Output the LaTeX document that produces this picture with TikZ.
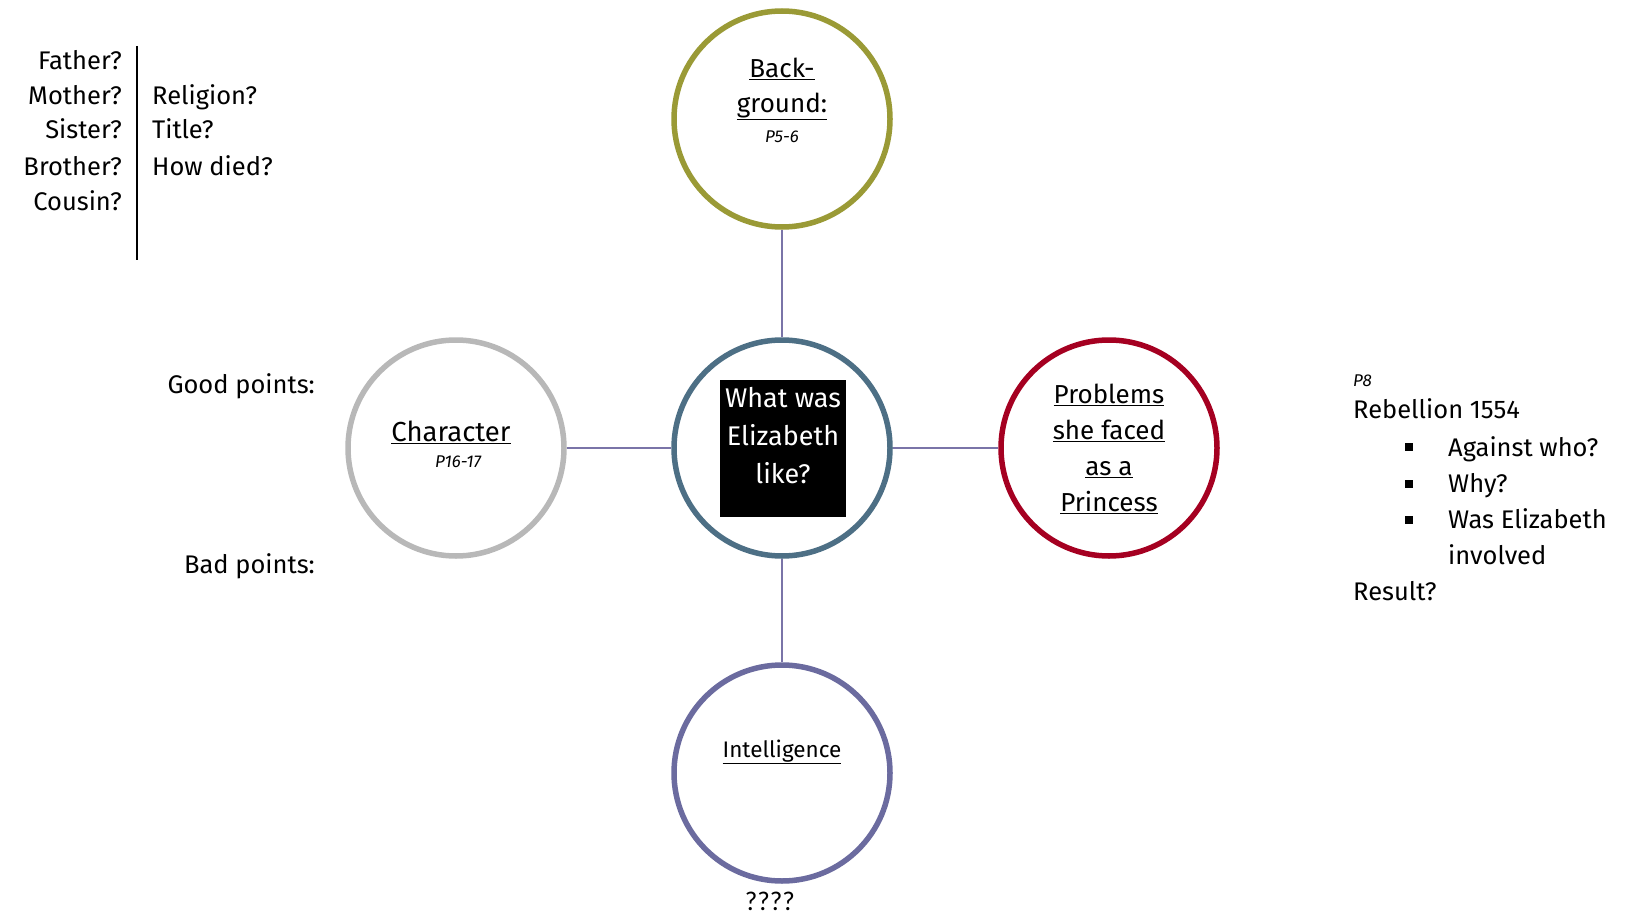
\documentclass[tikz,border=0pt]{standalone}
\usepackage{fontspec}
\setmainfont{Fira Sans}
\newfontfamily\qfont{Carlito}
\definecolor{olivec}{RGB}{154,154,54}
\definecolor{slatec}{RGB}{77,111,133}
\definecolor{grayc}{RGB}{184,184,184}
\definecolor{redc}{RGB}{165,0,33}
\definecolor{purpc}{RGB}{107,107,159}
\definecolor{linec}{RGB}{122,116,168}
\tikzset{
  bubble/.style={circle, minimum size=216pt, line width=5.5pt, draw, fill=white, inner sep=0pt},
  conn/.style={draw=linec, line width=1.8pt},
  txt/.style={font=\fontsize{25.5}{28}\selectfont, inner sep=0pt, anchor=base},
  ttl/.style={font=\fontsize{26}{28}\selectfont, inner sep=0pt, align=center},
  pg/.style={font=\fontsize{17}{19}\selectfont\itshape, inner sep=0pt},
  sq/.style={fill=black, minimum size=8pt, inner sep=0pt},
}
\begin{document}
\begin{tikzpicture}[x=1pt,y=-1pt]
\useasboundingbox (0,0) rectangle (1632,915);
% circles
\node[bubble, draw=slatec] (c) at (782,448) {};
\node[bubble, draw=olivec] (t) at (782,119) {};
\node[bubble, draw=grayc] (l) at (456,448) {};
\node[bubble, draw=redc] (r) at (1109,448) {};
\node[bubble, draw=purpc] (b) at (782,773) {};
\draw[conn] (c) -- (t);
\draw[conn] (c) -- (l);
\draw[conn] (c) -- (r);
\draw[conn] (c) -- (b);
% centre box
\node[fill=black, minimum width=126pt, minimum height=137pt, inner sep=0pt] (box) at (783,448.5) {};
\node[ttl, text=white, font=\fontsize{27}{38}\selectfont] (q) at (783,436) {What was\\Elizabeth\\like?};
% top
\node[ttl, font=\fontsize{26}{35}\selectfont] (bg) at (782,89) {\underline{Back-}\\\underline{ground:}};
\node[pg] (bgp) at (782,137) {P5-6};
% left
\node[ttl, font=\fontsize{27.5}{30}\selectfont] (ch) at (451,432) {\underline{Character}};
\node[pg] (chp) at (458,462) {P16-17};
% right
\node[ttl, font=\fontsize{26}{36}\selectfont] (pr) at (1109,449) {\underline{Problems}\\\underline{she faced}\\\underline{as a}\\\underline{Princess}};
% bottom
\node[ttl, font=\fontsize{22.5}{24}\selectfont] (in) at (782,752) {\underline{Intelligence}};
\node[font=\qfont\fontsize{27}{28}\selectfont, inner sep=0pt, anchor=base] (qq) at (770,910) {????};
% top-left lists
\draw[line width=1.6pt] (137,46) coordinate (vt) -- (137,260) coordinate (vb);
\node[txt, anchor=base east] (f1) at (122,70) {Father?};
\node[txt, anchor=base east] (f2) at (122,105) {Mother?};
\node[txt, anchor=base east] (f3) at (122,139) {Sister?};
\node[txt, anchor=base east] (f4) at (122,175) {Brother?};
\node[txt, anchor=base east] (f5) at (122,210) {Cousin?};
\node[txt, anchor=base west] (g1) at (152,105) {Religion?};
\node[txt, anchor=base west] (g2) at (152,139) {Title?};
\node[txt, anchor=base west] (g3) at (152,175) {How died?};
% good/bad points
\node[txt, anchor=base east] (gp) at (315,393) {Good points:};
\node[txt, anchor=base east] (bp) at (315,573) {Bad points:};
% right text
\node[pg, anchor=base west] (p8) at (1353,386) {P8};
\node[txt, anchor=base west] (rb) at (1353,418) {Rebellion 1554};
\node[txt, anchor=base west] (a1) at (1448,456) {Against who?};
\node[txt, anchor=base west] (a2) at (1448,492) {Why?};
\node[txt, anchor=base west] (a3) at (1448,528) {Was Elizabeth};
\node[txt, anchor=base west] (a4) at (1448,564) {involved};
\node[txt, anchor=base west] (rs) at (1353,600) {Result?};
\node[sq] (s1) at (1409,447) {};
\node[sq] (s2) at (1409,484) {};
\node[sq] (s3) at (1409,520) {};
\end{tikzpicture}
\end{document}
